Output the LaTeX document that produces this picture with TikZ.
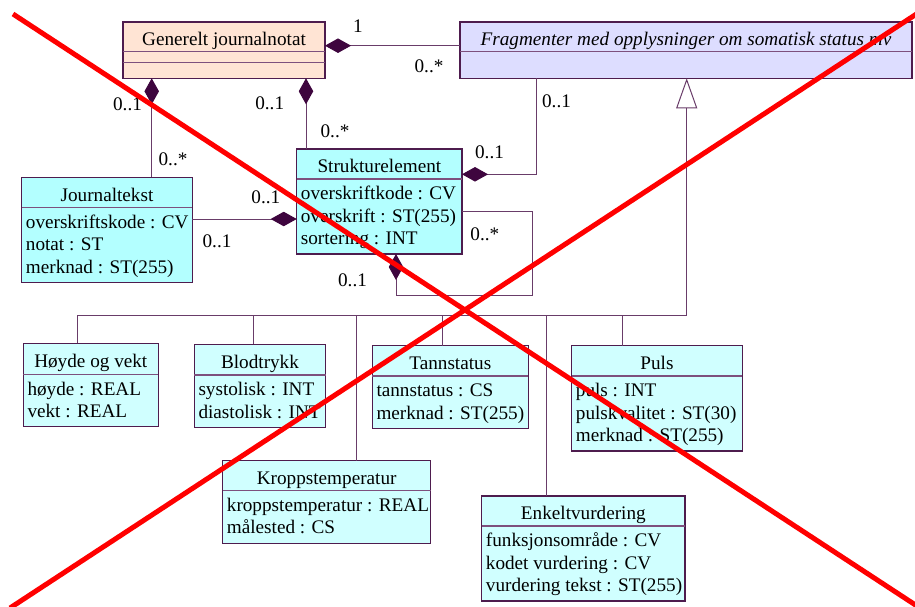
\documentclass[tikz,border=0pt]{standalone}
\usepackage{fontspec}
\setmainfont{Liberation Serif}
\usetikzlibrary{arrows.meta}

\definecolor{peach}{RGB}{255,228,212}
\definecolor{lavender}{RGB}{221,221,255}
\definecolor{cyanstrong}{RGB}{179,255,255}
\definecolor{cyanlight}{RGB}{208,255,255}
\definecolor{boxline}{RGB}{78,28,78}
\definecolor{divcol}{RGB}{125,80,125}
\definecolor{conncol}{RGB}{105,60,105}
\definecolor{diamcol}{RGB}{62,5,62}

% a UML class: name, x1, y1, x2, y2, divider y, fill, title
\newcommand{\umlclass}[8]{%
  \pgfmathsetmacro\clsw{#4-#2}%
  \pgfmathsetmacro\clsh{#5-#3}%
  \pgfmathsetmacro\clsx{(#2+#4)/2}%
  \pgfmathsetmacro\clsy{(#3+#5)/2}%
  \node[classbox, fill=#7, minimum width=\clsw pt, minimum height=\clsh pt] (#1) at (\clsx,\clsy) {};
  \draw[divline] (#1.west |- 0,#6) -- (#1.east |- 0,#6);
  \node[ctitle] (#1-title) at ({\clsx},{#6-6.5}) {#8};
}
% attribute lines of a class: name, x1, divider y, list
\newcommand{\umlattrs}[4]{%
  \foreach \attrline [count=\attrno] in {#4} {
    \node[cattr] (#1-a\attrno) at ({#2+4},{#3+20.8+(\attrno-1)*22.3}) {\attrline};
  }}

\begin{document}
\begin{tikzpicture}[x=1pt,y=-1pt,
  font=\fontsize{19.2}{22.3}\selectfont,
  classbox/.style={rectangle, draw=boxline, line width=1.4pt, inner sep=0pt, outer sep=0pt},
  divline/.style={draw=divcol, line width=1.2pt},
  ctitle/.style={anchor=base, inner sep=0pt},
  cattr/.style={anchor=base west, inner sep=0pt},
  mult/.style={anchor=base, inner sep=0pt},
  conn/.style={draw=conncol, line width=1pt},
  comp/.style={conn, -{Diamond[length=26pt, width=14.5pt, color=diamcol, fill=diamcol]}},
  inherit/.style={conn, -{Triangle[length=30pt, width=21pt, fill=white, color=conncol]}},
  cross/.style={draw=red, line width=5pt}]

\fill[white] (0,0) rectangle (915,607);
\useasboundingbox (0,0) rectangle (915,607);

% classes
\umlclass{gj}{123}{22}{325}{78.3}{51.7}{peach}{Generelt journalnotat}
\draw[divline] (gj.west |- 0,62.3) -- (gj.east |- 0,62.3);
\umlclass{fr}{460}{22}{912}{78.3}{51.7}{lavender}{\itshape Fragmenter med opplysninger om somatisk status mv}

\umlclass{jt}{21.7}{177.3}{192.3}{282.3}{207.7}{cyanstrong}{Journaltekst}
\umlattrs{jt}{21.7}{207.7}{overskriftskode : CV, notat : ST, merknad : ST(255)}

\umlclass{se}{296.7}{149}{462}{254}{179}{cyanstrong}{Strukturelement}
\umlattrs{se}{296.7}{179}{overskriftkode : CV, overskrift : ST(255), sortering : INT}

\umlclass{hv}{23.3}{343.3}{158.3}{426.7}{374.3}{cyanlight}{Høyde og vekt}
\umlattrs{hv}{23.3}{374.3}{høyde : REAL, vekt : REAL}

\umlclass{bt}{194.3}{344.3}{325.7}{427.7}{375}{cyanlight}{Blodtrykk}
\umlattrs{bt}{194.3}{375}{systolisk : INT, diastolisk : INT}

\umlclass{ts}{372.3}{345.7}{528.3}{428.3}{376}{cyanlight}{Tannstatus}
\umlattrs{ts}{372.3}{376}{tannstatus : CS, merknad : ST(255)}

\umlclass{pu}{571.7}{345.7}{742.3}{451}{376}{cyanlight}{Puls}
\umlattrs{pu}{571.7}{376}{puls : INT, pulskvalitet : ST(30), merknad : ST(255)}

\umlclass{kt}{222.7}{460.7}{430.7}{543.3}{490.7}{cyanlight}{Kroppstemperatur}
\umlattrs{kt}{222.7}{490.7}{kroppstemperatur : REAL, målested : CS}

\umlclass{ev}{481.7}{496}{685}{601}{526}{cyanlight}{Enkeltvurdering}
\umlattrs{ev}{481.7}{526}{funksjonsområde : CV, kodet vurdering : CV, vurdering tekst : ST(255)}

% compositions
\draw[comp] (fr.west |- 0,45.7) -- (gj.east |- 0,45.7);
\draw[comp] (jt.north -| 151.7,0) -- (gj.south -| 151.7,0);
\draw[comp] (se.north -| 306,0) -- (gj.south -| 306,0);
\draw[comp] (fr.south -| 536.7,0) |- (se.east |- 0,174.3);
\draw[comp] (jt.east |- 0,219) -- (se.west |- 0,219);
\coordinate (loopc) at (532.3,295.7);
\draw[comp] (se.east |- 0,211.7) -| (loopc) -| (se.south -| 396,0);

% generalisation tree
\coordinate (gbus) at (686.7,315.7);
\draw[inherit] (hv.north -| 77.3,0) |- (gbus) -- (fr.south -| gbus);
\foreach \dx/\cl in {253.3/bt, 356/kt, 442.7/ts, 546.7/ev, 622.7/pu}
  \draw[conn] (\cl.north -| \dx,0) -- (gbus -| \dx,0);

% multiplicities
\node[mult] (m1) at (358,32.7) {1};
\node[mult] (m2) at (429,72.3) {0..*};
\node[mult] (m3) at (127.5,110.7) {0..1};
\node[mult] (m4) at (269.7,110) {0..1};
\node[mult] (m5) at (335,137.3) {0..*};
\node[mult] (m6) at (556.5,107.3) {0..1};
\node[mult] (m7) at (489.5,158) {0..1};
\node[mult] (m8) at (173,165) {0..*};
\node[mult] (m9) at (265.8,203.3) {0..1};
\node[mult] (m10) at (217,247.7) {0..1};
\node[mult] (m11) at (484.8,240) {0..*};
\node[mult] (m12) at (352.5,286.7) {0..1};

% crossing-out strokes
\draw[cross] (13,14) -- (917,606);
\draw[cross] (918,13) -- (10,608);
\end{tikzpicture}
\end{document}
